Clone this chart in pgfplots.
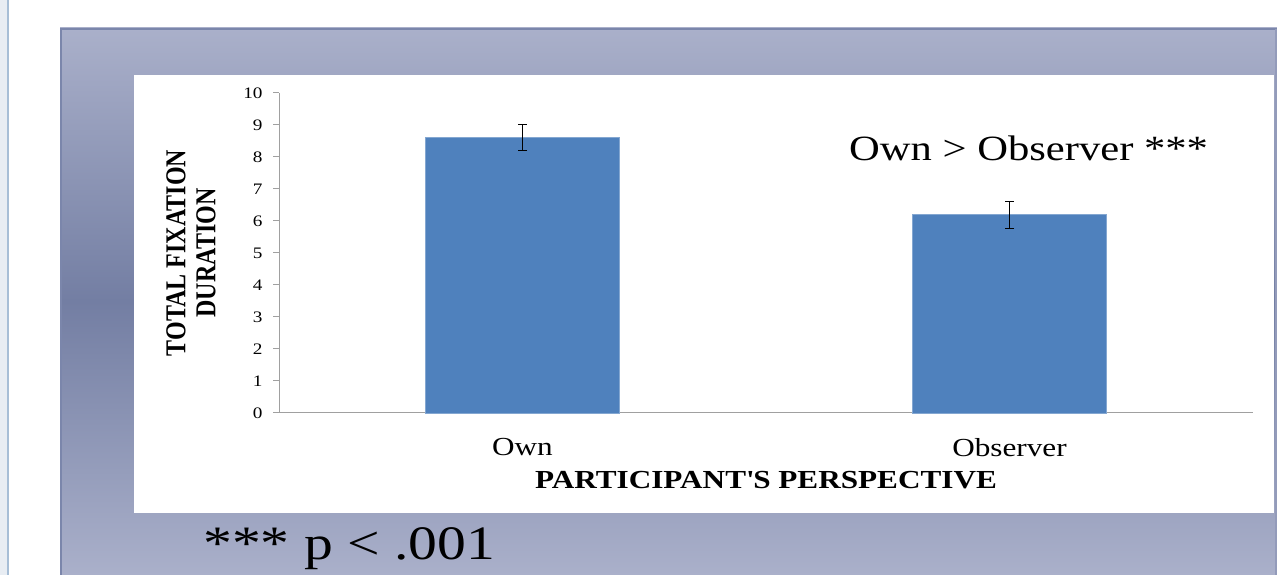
\documentclass[border=0pt]{standalone}
\usepackage{fontspec}
\setmainfont{Liberation Serif}[FakeStretch=1.2]
\newfontfamily\plainserif{Liberation Serif}
\usepackage{graphicx}
\usepackage{pgfplots}
\pgfplotsset{compat=1.18}

\definecolor{barblue}{HTML}{4F81BD}
\definecolor{axisgray}{HTML}{A0A0A0}
\definecolor{stripgray}{HTML}{E8EDF3}
\definecolor{stripline}{HTML}{A7BED6}
\definecolor{panelTop}{HTML}{AAB0CA}
\definecolor{panelMid}{HTML}{737EA3}
\definecolor{panelBot}{HTML}{AAB0CA}
\definecolor{panelEdge}{HTML}{7B86AB}

\begin{document}
\begin{tikzpicture}[x=1pt,y=1pt]
\useasboundingbox (0,0) rectangle (1277,575);
% slide background
\fill[white] (0,0) rectangle (1277,575);
\fill[stripgray] (0,0) rectangle (7,575);
\fill[stripline] (7,0) rectangle (9,575);
\shade[top color=panelTop, bottom color=panelBot, middle color=panelMid] (60,0) rectangle (1277,547);
\draw[panelEdge, line width=2pt] (61,0) -- (61,546) -- (1277,546);
\draw[panelEdge!50!panelTop, line width=2pt] (1276,0) -- (1276,546);
\fill[white] (134,62) rectangle (1274,500);

\begin{axis}[
  at={(279pt,162pt)}, anchor=south west,
  scale only axis, width=974pt, height=320pt,
  xmin=-0.5, xmax=1.5, ymin=0, ymax=10,
  axis x line*=bottom, axis y line*=left,
  axis line style={draw=axisgray, line width=1pt, -},
  ybar, bar width=194pt,
  xtick={0,1}, xticklabels={Own,Observer},
  ytick={0,1,...,10},
  tick align=outside, major tick length=6pt,
  ytick style={draw=axisgray, line width=1pt},
  xtick style={draw=none},
  /pgf/number format/assume math mode=true,
  yticklabel style={font=\fontsize{16}{18}\selectfont, xshift=-7pt},
  xticklabel style={font=\fontsize{26}{30}\selectfont, yshift=-16pt},
  xlabel={PARTICIPANT\textquotesingle S PERSPECTIVE},
  xlabel style={font=\fontsize{26}{30}\selectfont\bfseries, yshift=-8pt},
  ylabel={\scalebox{1}[1.2]{\begin{tabular}{@{}c@{}}TOTAL FIXATION\\DURATION\end{tabular}}},
  ylabel style={font=\plainserif\bfseries\fontsize{24}{25}\selectfont, yshift=12pt},
  clip=false,
]
\addplot[fill=barblue, draw=barblue!70!white, line width=0.8pt,
  error bars/.cd, y dir=both, y explicit,
  error bar style={black, line width=1pt},
  error mark options={rotate=90, mark size=4.5pt, black, line width=1pt}]
  coordinates {(0,8.6) +- (0,0.4) (1,6.2) +- (0,0.42)};
\end{axis}

\node[anchor=base west, inner sep=0, font=\fontsize{35.5}{40}\selectfont] at (849,414) {Own > Observer ***};
\node[anchor=base west, inner sep=0, font=\fontsize{48}{52}\selectfont] at (203,15) {*** p < .001};
\end{tikzpicture}
\end{document}
